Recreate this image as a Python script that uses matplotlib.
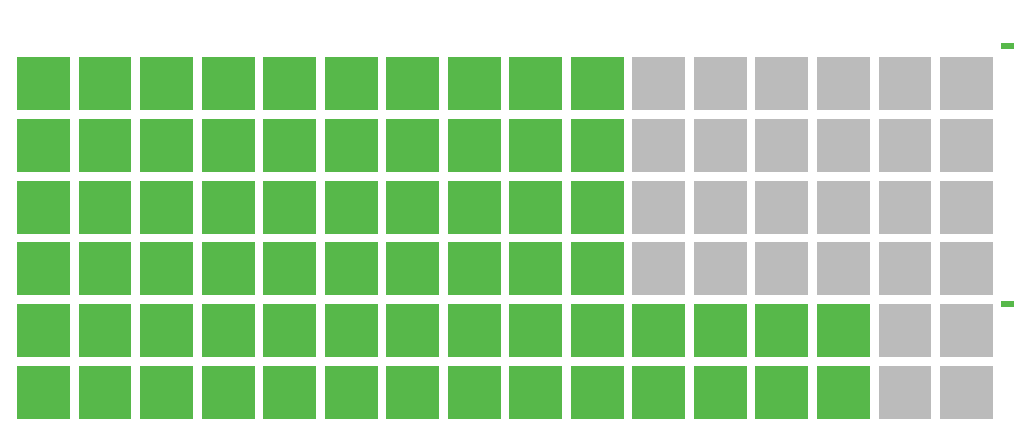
# waffle grid: green cells per row, grey for the rest
import matplotlib.pyplot as plt
from matplotlib.patches import Rectangle

n_cols = 16
n_rows = 6
# green count per row, bottom row first
filled_per_row = [14, 14, 10, 10, 10, 10]

green = '#57b84a'
grey = '#bbbbbb'
cell = 0.86

fig = plt.figure(figsize=(10.14, 4.34), dpi=100)
ax = fig.add_axes([17 / 1014, 15 / 434, 976 / 1014, 362 / 434])

for r in range(n_rows):
    for c in range(n_cols):
        color = green if c < filled_per_row[r] else grey
        ax.add_patch(Rectangle((c, r), cell, cell, facecolor=color, edgecolor='none'))

ax.set_xlim(0, n_cols - 1 + cell)
ax.set_ylim(0, n_rows - 1 + cell)
ax.axis('off')

# clipped legend markers on the right edge
for y0 in [385 / 434, 127 / 434]:
    fig.patches.append(Rectangle((1001 / 1014, y0), 13 / 1014, 6 / 434,
                                 transform=fig.transFigure, facecolor=green,
                                 edgecolor='none'))

fig.savefig('out.png', dpi=100)
